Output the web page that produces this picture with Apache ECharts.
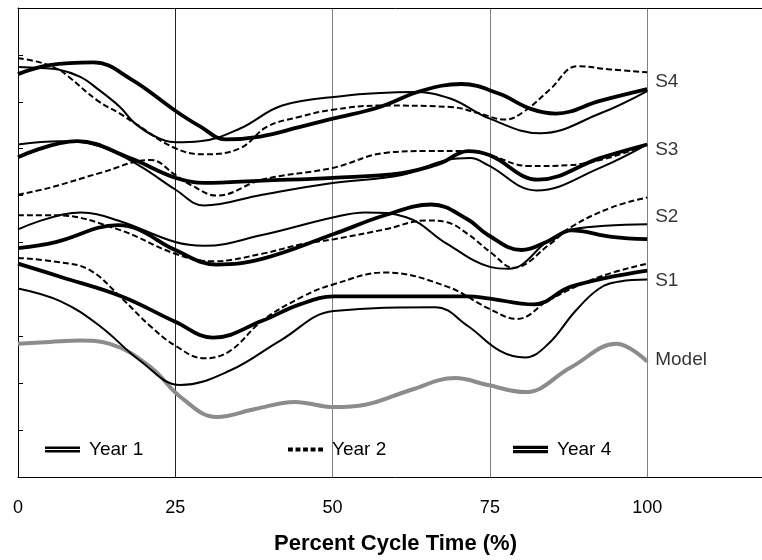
<!DOCTYPE html>
<html>
<head>
<meta charset="utf-8">
<script src="https://cdn.jsdelivr.net/npm/echarts@6/dist/echarts.min.js"></script>
<style>
html, body { margin: 0; padding: 0; overflow: hidden; background: #fff; }
/* wider than the window: the plot runs past the right edge (x max 120) */
#chart { width: 790px; height: 560px; }
</style>
</head>
<body>
<div id="chart"></div>
<script>
// x: percent of cycle, y: offset value (0..10 axis, no labels)
var xTicks = [0, 25, 50, 75, 100];

var s4Year1 = [[0,8.74],[3.5,8.72],[6.4,8.69],[9.9,8.53],[12.7,8.27],[16.2,7.89],[18.6,7.54],[21.8,7.26],[25,7.14],[28.9,7.16],[35.3,7.43],[42,7.92],[52,8.13],[57.6,8.19],[62.8,8.21],[68.7,8.07],[75,7.64],[83,7.33],[92.5,7.75],[100,8.23]];
var s4Year2 = [[0,8.93],[3.5,8.84],[6.4,8.69],[7.9,8.55],[12.7,8.02],[16.2,7.75],[18.6,7.54],[25,7.01],[29.7,6.88],[35.3,7.01],[39.6,7.47],[44.8,7.68],[50,7.83],[57.6,7.92],[68.7,7.89],[73.4,7.75],[77.4,7.62],[80.6,7.81],[84.6,8.27],[88.9,8.76],[94.1,8.69],[100,8.63]];
var s4Year4 = [[0,8.59],[5,8.78],[12,8.84],[18,8.48],[25,7.81],[29,7.47],[33,7.2],[38.5,7.26],[45,7.47],[50,7.64],[57.5,7.89],[64,8.23],[70.5,8.38],[76.5,8.17],[81.5,7.85],[85.5,7.75],[92.5,8.02],[100,8.27]];

var s3Year1 = [[0,7.09],[6.7,7.16],[13,7.05],[19.4,6.63],[25,6.13],[29.6,5.79],[38.8,6.02],[50,6.27],[61,6.44],[68.2,6.76],[71.9,6.8],[74.7,6.65],[82.4,6.11],[92.5,6.59],[100,7.09]];
var s3Year2 = [[0,6.02],[5.1,6.17],[13,6.48],[21.1,6.76],[25,6.44],[27.7,6.21],[31.6,6.0],[38.8,6.34],[50,6.59],[58.3,6.91],[65,6.95],[71.5,6.95],[75.4,6.84],[81.2,6.63],[87.9,6.65],[100,7.09]];
var s3Year4 = [[0,6.82],[9.4,7.16],[17.8,6.8],[25,6.38],[29.6,6.27],[38.8,6.32],[50,6.38],[61,6.48],[67.1,6.69],[71.5,6.95],[75,6.86],[82.7,6.34],[92.5,6.8],[100,7.09]];

var s2Year1 = [[0,5.28],[10,5.64],[15.9,5.47],[25,5.01],[29.6,4.93],[38.8,5.16],[50.2,5.54],[55.2,5.64],[61.7,5.54],[68.2,4.97],[75,4.48],[78,4.44],[84.6,5.07],[87.9,5.28],[100,5.39]];
var s2Year2 = [[0,5.58],[6,5.58],[15.9,5.28],[25,4.76],[31,4.6],[38.8,4.76],[45.3,4.97],[50.2,5.07],[58.3,5.28],[65,5.47],[68.2,5.43],[71.5,5.18],[75.4,4.76],[78.7,4.46],[84.6,4.97],[87.9,5.33],[94.4,5.75],[100,5.96]];
var s2Year4 = [[0,4.88],[6,5.01],[15.9,5.37],[19.1,5.28],[25,4.84],[31.6,4.53],[38.8,4.65],[50.2,5.18],[58.3,5.58],[65.7,5.81],[71.5,5.49],[74.7,5.16],[80,4.84],[84.6,5.05],[87.9,5.26],[94.4,5.12],[100,5.07]];

var s1Year1 = [[0,4.02],[6.7,3.75],[13,3.22],[19.4,2.48],[25.8,1.96],[33.7,2.27],[41.7,2.91],[50.2,3.54],[66.3,3.62],[71.5,3.22],[76.6,2.69],[80.6,2.55],[84.3,2.84],[88.6,3.54],[92.4,4.02],[95.7,4.17],[100,4.21]];
var s1Year2 = [[0,4.67],[6,4.59],[11.3,4.42],[16.5,3.81],[21,3.22],[25,2.8],[29.6,2.53],[33.7,2.69],[38.8,3.33],[45.3,3.85],[50.2,4.11],[58.3,4.36],[68.2,4.06],[74.7,3.6],[79.3,3.37],[84.6,3.79],[92.5,4.27],[100,4.55]];
var s1Year4 = [[0,4.55],[6.7,4.27],[16.5,3.85],[25,3.31],[31,2.97],[38.8,3.33],[44.8,3.68],[50.2,3.85],[60.7,3.85],[71.5,3.85],[74.7,3.81],[82,3.68],[87.9,4.06],[100,4.4]];

var model = [[0,2.84],[5.1,2.88],[9.9,2.91],[14.6,2.84],[21.1,2.34],[25.8,1.71],[31.6,1.28],[37.7,1.45],[44,1.6],[50.2,1.49],[55.2,1.54],[62.3,1.85],[69.5,2.11],[74.7,1.96],[80.6,1.81],[87.9,2.34],[95.1,2.84],[100,2.46]];

var groupLabels = ['S4', 'S3', 'S2', 'S1', 'Model'];
var groupLabelY = [8.42, 6.97, 5.54, 4.19, 2.51];

var FONT = 'Arial, "Liberation Sans", sans-serif';

var myChart = echarts.init(document.getElementById('chart'));

function curve(name, data, kind) {
  var ls = { color: '#000', width: 2 };
  if (kind === 'dash') ls = { color: '#000', width: 2, type: [6, 3] };
  if (kind === 'thick') ls = { color: '#000', width: 3.8 };
  if (kind === 'model') ls = { color: '#8c8c8c', width: 4 };
  return {
    name: name,
    type: 'line',
    data: data,
    smooth: 0.4,
    symbol: 'none',
    silent: true,
    color: ls.color,
    lineStyle: ls
  };
}

var series = [
  curve('Model', model, 'model'),
  curve('Year 1', s4Year1, 'thin'), curve('Year 2', s4Year2, 'dash'), curve('Year 4', s4Year4, 'thick'),
  curve('Year 1', s3Year1, 'thin'), curve('Year 2', s3Year2, 'dash'), curve('Year 4', s3Year4, 'thick'),
  curve('Year 1', s2Year1, 'thin'), curve('Year 2', s2Year2, 'dash'), curve('Year 4', s2Year4, 'thick'),
  curve('Year 1', s1Year1, 'thin'), curve('Year 2', s1Year2, 'dash'), curve('Year 4', s1Year4, 'thick'),
  {
    name: 'labels',
    type: 'scatter',
    symbolSize: 0,
    silent: true,
    data: groupLabels.map(function (n, i) { return { name: n, value: [100, groupLabelY[i]] }; }),
    label: {
      show: true,
      position: 'right',
      distance: 8,
      formatter: '{b}',
      color: '#000',
      fontSize: 19,
      fontFamily: FONT
    }
  }
];

function legendAt(left, name, icon) {
  return {
    left: left,
    top: 440,
    padding: 0,
    itemWidth: 35,
    itemHeight: 8,
    itemGap: 10,
    selectedMode: false,
    itemStyle: { color: '#000', borderWidth: 0 },
    textStyle: { color: '#000', fontSize: 19, fontFamily: FONT, padding: [0, 0, 0, 4] },
    data: [{ name: name, icon: icon }]
  };
}

var option = {
  animation: false,
  backgroundColor: '#fff',
  grid: { left: 18, top: 8, width: 755, height: 475, containLabel: false },
  legend: [
    legendAt(45, 'Year 1', 'path://M0,0H40V3H0Z M0,4H40V7H0Z'),
    legendAt(288, 'Year 2', 'path://M0,0H5V4H0Z M7.75,0H12.75V4H7.75Z M15.5,0H20.5V4H15.5Z M23.25,0H28.25V4H23.25Z M31,0H36V4H31Z'),
    legendAt(513, 'Year 4', 'path://M0,0H40V3.8H0Z M0,4.8H40V8.6H0Z')
  ],
  xAxis: [
    {
      type: 'value',
      min: 0,
      max: 120,
      interval: 25,
      name: 'Percent Cycle Time (%)',
      nameLocation: 'middle',
      nameGap: 56,
      nameTextStyle: { color: '#000', fontSize: 22, fontWeight: 'bold', fontFamily: FONT },
      axisLine: { lineStyle: { color: '#000', width: 1 } },
      axisTick: { show: false },
      axisLabel: {
        color: '#000',
        fontSize: 18,
        fontFamily: FONT,
        margin: 22,
        formatter: function (v) { return xTicks.indexOf(v) >= 0 ? String(v) : ''; }
      },
      splitLine: { show: true, lineStyle: { color: ['#000', '#222', '#808080', '#808080', '#808080', '#808080'], width: 1 } }
    },
    {
      type: 'value',
      position: 'top',
      min: 0,
      max: 120,
      axisLine: { show: true, lineStyle: { color: '#000', width: 1 } },
      axisTick: { show: false },
      axisLabel: { show: false },
      splitLine: { show: false }
    }
  ],
  yAxis: {
    type: 'value',
    min: 0,
    max: 10,
    interval: 1,
    axisLine: { show: true, lineStyle: { color: '#000', width: 1 } },
    axisTick: { show: true, inside: true, length: 5, lineStyle: { color: '#000' } },
    axisLabel: { show: false },
    splitLine: { show: false }
  },
  series: series
};

myChart.setOption(option);
</script>
</body>
</html>
